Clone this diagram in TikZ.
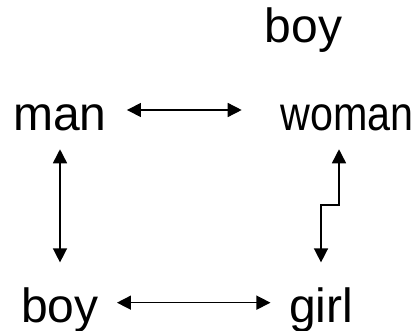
\documentclass[tikz,border=0pt]{standalone}
\usepackage{fontspec}
\setmainfont{Liberation Sans}
\usetikzlibrary{arrows.meta}

\begin{document}
\begin{tikzpicture}[x=0.75pt,y=-0.75pt,
  word/.style={font=\fontsize{36}{43}\selectfont,inner sep=0pt,anchor=base,
    text height=26pt,text depth=7.5pt},
  pair/.style={{Triangle[length=10.5pt,width=10.5pt]}-{Triangle[length=10.5pt,width=10.5pt]},
    line width=1.1pt}]

% frame
\useasboundingbox (0,0) rectangle (417,331);

% words
\node[word] (top) at (303.5,43) {boy};
\node[word] (man) at (60,131) {man};
\node[word,xscale=0.86] (woman) at (347,131) {woman};
\node[word] (boy) at (60,322) {boy};
\node[word] (girl) at (321,322) {girl};
\coordinate (bend) at (321,205);

% links
\draw[pair,shorten <=15pt,shorten >=28.9pt]
  ([yshift=15.75pt]man.base east) -- ([yshift=15.75pt]woman.base west);
\draw[pair,shorten <=13.5pt,shorten >=13.7pt]
  ([yshift=14.5pt]boy.base east) -- ([yshift=14.5pt]girl.base west);
\draw[pair,shorten <=6pt,shorten >=18.5pt] (man.south) -- (boy.north);
\draw[pair,shorten <=6pt,shorten >=18.5pt]
  ([xshift=-6pt]woman.south) |- (bend) -- (girl.north);
\end{tikzpicture}
\end{document}
